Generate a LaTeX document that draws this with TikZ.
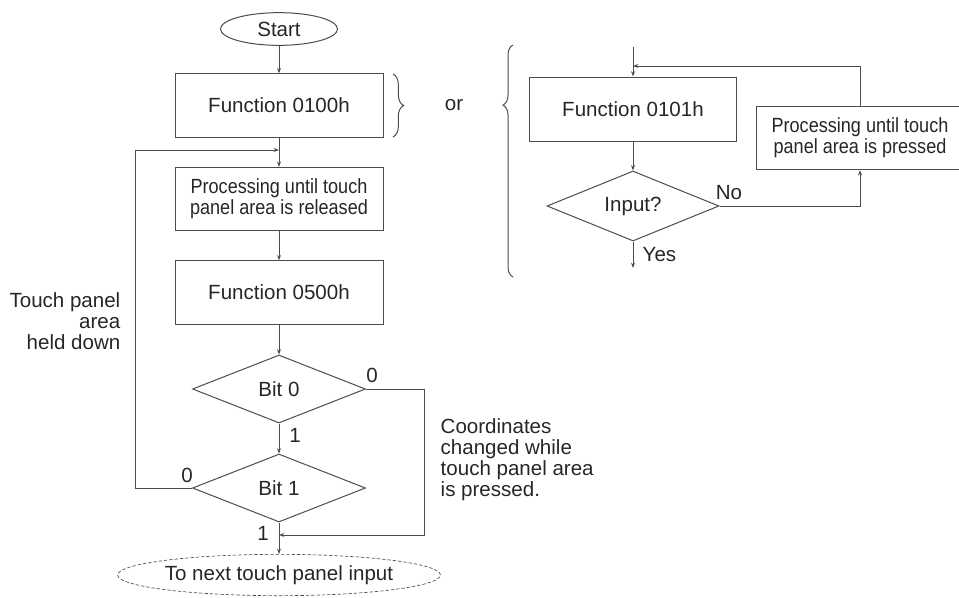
\documentclass[tikz,border=0pt]{standalone}
\usepackage{fontspec}
\setmainfont{Liberation Sans}
\newfontfamily\condfont[FakeStretch=0.88]{Liberation Sans}
\usetikzlibrary{shapes.geometric,arrows.meta,decorations.pathreplacing}
\begin{document}
\begin{tikzpicture}[x=0.75pt,y=-0.75pt,
  every node/.style={font=\fontsize{15.4}{15.8}\selectfont, text=black!85},
  ln/.style={draw=black!70, line width=0.75pt},
  arr/.style={ln, -{Stealth[length=4pt,width=3pt]}},
  cond/.style={font=\condfont\fontsize{15.4}{15.8}\selectfont},
  box/.style={rectangle, ln, minimum width=156pt, minimum height=47.5pt, inner sep=0pt, align=center},
  box2/.style={rectangle, ln, minimum width=155.25pt, minimum height=48pt, inner sep=0pt, align=center},
  dia/.style={diamond, ln, aspect=2.5, minimum width=129.75pt, minimum height=51pt, inner sep=0pt},
  dia2/.style={diamond, ln, aspect=2.5, minimum width=129pt, minimum height=52.5pt, inner sep=0pt},
  startell/.style={ellipse, ln, minimum width=87.75pt, minimum height=24.5pt, inner sep=0pt},
  endell/.style={ellipse, draw=black!70, line width=0.5pt, dash pattern=on 2.5pt off 1.5pt, minimum width=228.75pt, minimum height=31pt, inner sep=0pt},
  brc/.style={ln, decorate}
]
\clip (0,0) rectangle (959,597);

% ---- left flow ----
\node[startell] (start) at (279,29) {Start};
\node[box] (f100) at (279,105.5) {Function 0100h};
\coordinate (j1) at (279,150);
\node[box, cond] (proc1) at (279,199) {Processing until touch\\panel area is released};
\node[box] (f500) at (279,292.5) {Function 0500h};
\node[dia] (bit0) at (279,389) {Bit 0};
\node[dia] (bit1) at (279,488) {Bit 1};
\coordinate (j2) at (279,535);
\node[endell] (end) at (279,575) {To next touch panel input};

\draw[arr] (start) -- (f100);
\draw[ln] (f100) -- (j1);
\draw[arr] (j1) -- (proc1);
\draw[arr] (proc1) -- (f500);
\draw[arr] (f500) -- (bit0);
\draw[arr] (bit0) -- (bit1);
\draw[ln] (bit1) -- (j2);
\draw[arr] (j2) -- (end);
\draw[arr] (bit1.west) -- ++(-57,0) |- (j1);
\draw[arr] (bit0.east) -- ++(58,0) |- (j2);

\node (l0a) at (372,375) {0};
\node (l1a) at (295,435) {1};
\node (l0b) at (187,475) {0};
\node (l1b) at (263,533) {1};

\node[anchor=east, align=right] (held) at (125,321) {Touch panel\\area\\held down};
\node[anchor=west, align=left] (coord) at (436,460) {Coordinates\\changed while\\touch panel area\\is pressed.};

% ---- brace and or ----
\draw[brc, decoration={brace, amplitude=8pt}] (393,74) -- (393,137);
\node (or) at (454,105) {or};
\draw[brc, decoration={brace, amplitude=7.5pt, aspect=0.741}] (513,277) -- (513,45);

% ---- right flow ----
\coordinate (in0) at (633,47);
\coordinate (j3) at (633,66);
\node[box2] (f101) at (633,109) {Function 0101h};
\node[dia2] (inp) at (633,206) {Input?};
\node[box, cond] (proc2) at (860,138) {Processing until touch\\panel area is pressed};
\coordinate (yes) at (633,268);

\draw[ln] (in0) -- (j3);
\draw[arr] (j3) -- (f101);
\draw[arr] (f101) -- (inp);
\draw[arr] (inp.east) -| (proc2.south);
\draw[arr] (proc2.north) |- (j3);
\draw[arr] (inp) -- (yes);

\node (no) at (729,193) {No};
\node[anchor=west] (yesl) at (638,255) {Yes};
\end{tikzpicture}
\end{document}
